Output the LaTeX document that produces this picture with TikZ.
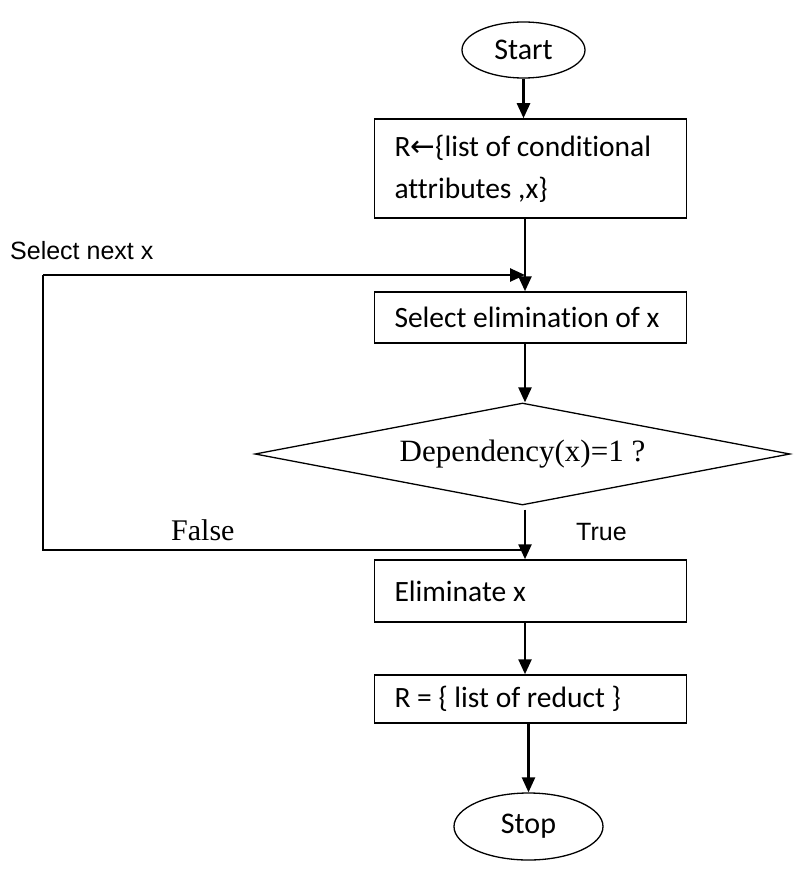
\documentclass[tikz,border=0pt]{standalone}
\usepackage{fontspec}
\setmainfont[Ligatures=NoCommon]{Carlito}
\newfontfamily\timesfont{Liberation Serif}
\newfontfamily\arialfont{Liberation Sans}
\newfontfamily\symbfont{DejaVu Sans}
\usetikzlibrary{arrows.meta}
\usetikzlibrary{shapes.geometric}

\begin{document}
\begin{tikzpicture}[x=1pt,y=-1pt,
 box/.style={draw,line width=1.5pt,text width=272pt,inner xsep=20pt,inner ysep=0pt,align=flush left,font=\fontsize{29.5}{42}\selectfont},
 term/.style={draw,ellipse,line width=1.3pt,inner sep=0pt,font=\fontsize{30}{34}\selectfont},
 flow/.style={line width=2.5pt,-{Triangle[length=15pt,width=13pt]}},
 lbl/.style={anchor=base west,inner sep=0pt}]
\useasboundingbox (0,0) rectangle (793,869);
\coordinate (axis) at (525,0);
\coordinate (edge) at (43,0);
% flow chart blocks
\node[term,minimum width=123pt,minimum height=56pt] (start) at (523.5,50) {Start};
\node[box,minimum height=99pt] (init) at (530.5,168.5) {R{\symbfont ←}\{list of conditional\\attributes ,x\}};
\node[box,minimum height=51pt] (sel) at (530.5,317.5) {Select elimination of x};
\node[draw,diamond,aspect=5.25,line width=1.3pt,minimum width=535pt,minimum height=102pt,inner sep=0pt,font=\timesfont\fontsize{31}{36}\selectfont] (dep) at (522.5,454) {Dependency(x)=1 ?};
\node[box,minimum height=62pt] (elim) at (530.5,591) {Eliminate x};
\node[box,minimum height=48pt] (red) at (530.5,699) {R = \{ list of reduct \}};
\node[term,minimum width=149pt,minimum height=67pt] (stop) at (528.5,826.5) {Stop};
% arrows
\draw[flow] (start.south) -- (start.south |- init.north);
\draw[flow] (init.south -| axis) -- (sel.north -| axis);
\draw[flow] (sel.south -| axis) -- (dep.north -| axis);
\draw[flow] ([yshift=-4pt]dep.south -| axis) -- (elim.north -| axis);
\draw[flow] (elim.south -| axis) -- (red.north -| axis);
\draw[flow] (red.south -| stop) -- (stop.north);
% loop back
\coordinate (back) at (525,550);
\coordinate (into) at (525,275);
\draw[line width=2.2pt] (back) -- (back -| edge) -- (into -| edge);
\draw[flow] (into -| edge) -- (into);
% labels
\node[lbl,font=\arialfont\fontsize{25}{30}\selectfont] (nextlbl) at (10,259) {Select next x};
\node[lbl,font=\timesfont\fontsize{30}{36}\selectfont] (falselbl) at (171,540) {False};
\node[lbl,font=\arialfont\fontsize{25}{30}\selectfont] (truelbl) at (576,540) {True};
\end{tikzpicture}
\end{document}
